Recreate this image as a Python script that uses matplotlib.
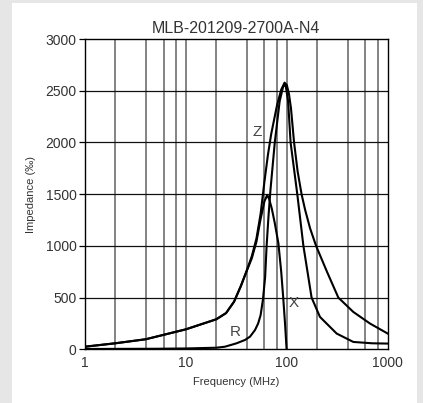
import matplotlib
matplotlib.use('Agg')
import matplotlib.pyplot as plt
from matplotlib.patches import Rectangle

plt.rcParams['font.family'] = ['Liberation Sans Narrow', 'Liberation Sans', 'DejaVu Sans']

title = "MLB-201209-2700A-N4"

# impedance Z
z_freq = [1, 2, 4, 10, 20, 25, 30, 35, 40, 45, 50, 55, 60, 65, 70, 80, 88, 95,
          100, 105, 110, 118, 128, 140, 152, 170, 195, 250, 324, 456, 667, 1000]
z_val = [25, 58, 97, 193, 290, 350, 460, 610, 760, 900, 1070, 1310, 1620, 1880,
         2080, 2360, 2510, 2578, 2555, 2470, 2330, 2000, 1720, 1500, 1347, 1170,
         1000, 750, 500, 361, 249, 152]

# resistance R
r_freq = [1, 5, 10, 20, 24.4, 31.8, 38.5, 43.2, 48.4, 52, 55, 58, 61, 63, 66, 69,
          76, 85, 92, 97, 103, 109, 127, 146, 176, 213, 312, 456, 700, 1000]
r_val = [3, 5, 8, 15, 25, 58, 90, 122, 186, 250, 330, 480, 700, 990, 1300, 1550,
         2000, 2400, 2540, 2560, 2400, 2000, 1500, 1000, 500, 313, 152, 71, 58, 55]

# reactance X
x_freq = [1, 2, 4, 10, 20, 25, 30, 35, 40, 45, 50, 55, 60, 64, 67, 71, 76, 82.5,
          88, 92, 96, 99.5]
x_val = [25, 58, 97, 193, 290, 350, 460, 610, 755, 880, 1040, 1260, 1430, 1492,
         1450, 1360, 1220, 1026, 750, 508, 250, 0]

grid_freq = [2, 4, 6, 8, 10, 20, 40, 60, 80, 100, 200, 400, 600, 800]
y_ticks = [0, 500, 1000, 1500, 2000, 2500, 3000]

fig = plt.figure(figsize=(4.23, 4.03), dpi=100, facecolor='#e6e6e6')
fig.patches.append(Rectangle((12 / 423, 0), 405 / 423, 400 / 403,
                             transform=fig.transFigure, facecolor='white',
                             edgecolor='none', zorder=-5))
ax = fig.add_axes([0.2009, 0.1333, 0.7157, 0.7699])
ax.set_zorder(2)
ax.set_xscale('log')
ax.set_xlim(1, 1000)
ax.set_ylim(0, 3000)

for f in grid_freq:
    ax.axvline(f, color='#6e6e6e', lw=1.2, zorder=1)
for v in y_ticks[1:-1]:
    ax.axhline(v, color='#111111', lw=0.9, zorder=1)

ax.plot(z_freq, z_val, color='black', lw=1.5, zorder=3)
ax.plot(r_freq, r_val, color='black', lw=1.5, zorder=3)
ax.plot(x_freq, x_val, color='black', lw=1.5, zorder=3)

ax.text(50.3, 2104, 'Z', fontsize=11, color='#444444', ha='center', va='center')
ax.text(30.7, 170, 'R', fontsize=11, color='#444444', ha='center', va='center')
ax.text(116, 445, 'X', fontsize=11, color='#444444', ha='center', va='center')

ax.set_xticks([1, 10, 100, 1000])
ax.set_xticklabels(['1', '10', '100', '1000'])
ax.xaxis.set_minor_locator(matplotlib.ticker.NullLocator())
ax.set_yticks(y_ticks)
ax.tick_params(axis='x', length=0, pad=5, labelsize=10, labelcolor='#333333')
ax.tick_params(axis='y', length=4, width=0.9, pad=2, labelsize=10, labelcolor='#333333')

for s in ax.spines.values():
    s.set_linewidth(1.0)
    s.set_color('black')

ax.set_xlabel('Frequency (MHz)', fontsize=8, color='#333333', labelpad=5)
ax.set_ylabel('Impedance (‰)', fontsize=8, color='#333333', labelpad=7)
ax.set_title(title, fontsize=11.5, color='#333333', pad=4)

fig.savefig('out.png', dpi=100, facecolor=fig.get_facecolor())
